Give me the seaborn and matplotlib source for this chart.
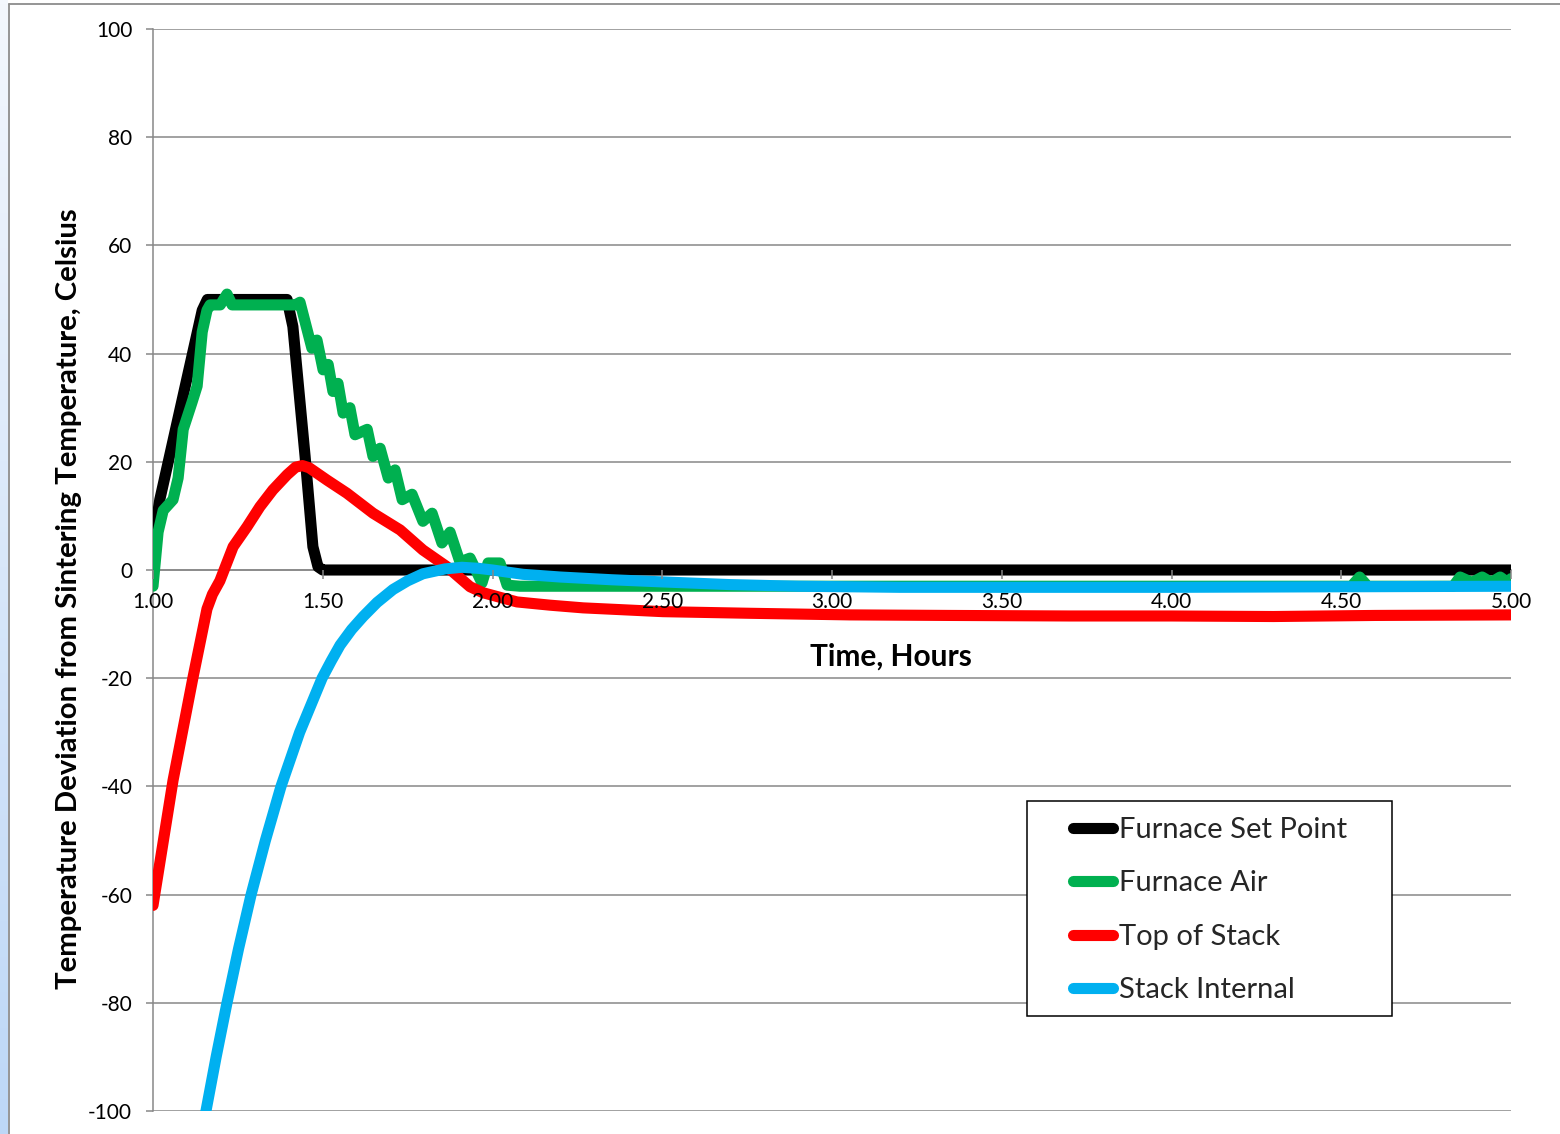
import numpy as np
import pandas as pd
import matplotlib
matplotlib.use("Agg")
import matplotlib.pyplot as plt
from matplotlib.patches import Rectangle
from matplotlib.lines import Line2D
from matplotlib.colors import LinearSegmentedColormap
import seaborn as sns

# ---- measured temperature deviations (hours, degrees Celsius) ----
hours_setpoint = [1.000, 1.020, 1.145, 1.160, 1.395, 1.412, 1.448, 1.471, 1.486, 1.500, 5.000]
setpoint = [5.0, 13.0, 48.0, 50.0, 50.0, 45.0, 21.0, 4.3, 0.6, 0.0, 0.0]

hours_air = [1.000, 1.015, 1.030, 1.059, 1.074, 1.089, 1.115, 1.130, 1.145, 1.159,
             1.168, 1.198, 1.218, 1.233, 1.419, 1.433, 1.468, 1.483, 1.501, 1.516,
             1.530, 1.545, 1.560, 1.580, 1.595, 1.631, 1.648, 1.669, 1.693, 1.713,
             1.734, 1.763, 1.795, 1.822, 1.851, 1.875, 1.904, 1.934, 1.969, 1.987,
             2.022, 2.043, 2.081, 2.500, 3.000, 3.500, 4.000, 4.530, 4.554, 4.578,
             4.830, 4.850, 4.885, 4.915, 4.942, 4.968, 4.990, 5.000]
furnace_air = [-3.0, 7.0, 11.0, 13.0, 17.0, 26.0, 31.0, 34.0, 44.0, 48.0,
               49.0, 49.0, 51.0, 49.0, 49.0, 49.5, 41.0, 42.5, 37.0, 38.0,
               33.0, 34.5, 29.0, 30.0, 25.0, 26.0, 21.0, 22.5, 17.0, 18.5,
               13.0, 14.0, 9.0, 10.5, 5.0, 7.0, 1.5, 2.2, -2.4, 1.3,
               1.3, -2.8, -3.0, -3.0, -3.0, -3.0, -3.0, -3.0, -1.3, -3.0,
               -3.0, -1.3, -2.3, -1.3, -2.3, -1.3, -2.3, -1.6]

hours_top = [1.000, 1.059, 1.118, 1.159, 1.175, 1.197, 1.236, 1.277, 1.315, 1.353,
             1.395, 1.420, 1.440, 1.460, 1.513, 1.571, 1.648, 1.728, 1.795, 1.866,
             1.934, 1.972, 2.072, 2.169, 2.267, 2.502, 2.758, 3.053, 3.348, 3.700,
             4.000, 4.300, 4.600, 5.000]
top_of_stack = [-62.0, -38.9, -19.8, -7.2, -4.5, -2.0, 4.3, 8.0, 11.7, 14.8,
                17.6, 19.0, 19.3, 18.9, 16.6, 14.2, 10.5, 7.4, 3.7, 0.6,
                -3.1, -4.2, -5.9, -6.5, -7.0, -7.7, -8.0, -8.3, -8.4, -8.5,
                -8.5, -8.6, -8.4, -8.3]

hours_internal = [1.140, 1.156, 1.186, 1.218, 1.252, 1.289, 1.331, 1.377, 1.432, 1.498,
                  1.525, 1.551, 1.585, 1.619, 1.660, 1.707, 1.750, 1.795, 1.860, 1.910,
                  1.960, 2.000, 2.090, 2.200, 2.350, 2.500, 2.700, 2.900, 3.200, 3.600,
                  4.000, 4.500, 5.000]
stack_internal = [-106.0, -100.0, -90.0, -80.0, -70.0, -60.0, -50.0, -40.0, -30.0, -20.0,
                  -16.8, -13.9, -11.0, -8.6, -6.0, -3.6, -2.0, -0.7, 0.2, 0.5,
                  0.3, 0.0, -0.8, -1.3, -1.8, -2.2, -2.7, -3.0, -3.2, -3.2,
                  -3.2, -3.1, -3.0]

series_names = ["Furnace Set Point", "Furnace Air", "Top of Stack", "Stack Internal"]
series_colors = ["#000000", "#00b050", "#ff0000", "#00b0f0"]

x_ticks = [1.0, 1.5, 2.0, 2.5, 3.0, 3.5, 4.0, 4.5, 5.0]
x_tick_labels = ["1.00", "1.50", "2.00", "2.50", "3.00", "3.50", "4.00", "4.50", "5.00"]
y_ticks = [-100, -80, -60, -40, -20, 0, 20, 40, 60, 80, 100]
y_tick_labels = ["-100", "-80", "-60", "-40", "-20", "0", "20", "40", "60", "80", "100"]

# ---- long-form table for seaborn ----
frames = []
for name, hrs, vals in zip(series_names,
                           [hours_setpoint, hours_air, hours_top, hours_internal],
                           [setpoint, furnace_air, top_of_stack, stack_internal]):
    frames.append(pd.DataFrame({"Time": hrs, "Deviation": vals, "Series": name}))
df = pd.concat(frames, ignore_index=True)

sns.set_theme(style="white")
plt.rcParams["font.family"] = ["Lato", "DejaVu Sans"]
plt.rcParams["axes.unicode_minus"] = False

W, H = 1560, 1134
fig = plt.figure(figsize=(W / 100, H / 100), dpi=100)
fig.patch.set_facecolor("white")

# plot area in pixel terms
left_px, right_px, top_px, bottom_px = 153, 1511, 29, 1111
ax = fig.add_axes([left_px / W, 1 - bottom_px / H,
                   (right_px - left_px) / W, (bottom_px - top_px) / H])
ax.set_facecolor("white")

grid_gray = "#878787"
line_w = 8

# horizontal gridlines kept beneath the curves; tick labels stay on top
for yv in y_ticks:
    ax.axhline(yv, color=grid_gray, linewidth=1.1, zorder=1)

sns.lineplot(data=df, x="Time", y="Deviation", hue="Series",
             hue_order=series_names, palette=dict(zip(series_names, series_colors)),
             estimator=None, sort=False, linewidth=line_w, legend=False, ax=ax,
             solid_capstyle="round", solid_joinstyle="round")

ax.set_xlim(1.0, 5.0)
ax.set_ylim(-100, 100)

ax.set_yticks(y_ticks, labels=y_tick_labels)
ax.set_xticks(x_ticks, labels=x_tick_labels)
ax.grid(False)
ax.set_axisbelow(False)

for side in ["top", "right"]:
    ax.spines[side].set_visible(False)
ax.spines["left"].set_color(grid_gray)
ax.spines["left"].set_linewidth(1.1)
ax.spines["left"].set_zorder(1)
ax.spines["bottom"].set_position(("data", 0))
ax.spines["bottom"].set_color(grid_gray)
ax.spines["bottom"].set_linewidth(1.1)
ax.spines["bottom"].set_zorder(1)

ax.tick_params(axis="y", direction="out", length=5, width=1.1, color=grid_gray,
               pad=10, labelsize=15, labelcolor="black", left=True)
ax.tick_params(axis="x", direction="out", length=6.5, width=1.1, color=grid_gray,
               pad=9, labelsize=15, labelcolor="black", bottom=True)

ax.set_ylabel("Temperature Deviation from Sintering Temperature, Celsius",
              fontsize=21.2, fontweight="bold", color="black", va="center")
ax.yaxis.set_label_coords((69 - left_px) / (right_px - left_px),
                          (bottom_px - 599) / (bottom_px - top_px))
ax.set_xlabel("Time, Hours", fontsize=21.5, fontweight="bold", color="black", va="center")
ax.xaxis.set_label_coords((891 - left_px) / (right_px - left_px),
                          (bottom_px - 657) / (bottom_px - top_px))

# legend box and entries
box = Rectangle((1027 / W, 1 - 1016 / H), (1392 - 1027) / W, (1016 - 801) / H,
                transform=fig.transFigure, facecolor="white", edgecolor="black",
                linewidth=1.1, zorder=4)
fig.add_artist(box)
handles = [Line2D([], [], color=c, linewidth=line_w, solid_capstyle="round")
           for c in series_colors]
leg = fig.legend(handles, series_names, loc="upper left",
                 bbox_to_anchor=(1073 / W, 1 - 817 / H), bbox_transform=fig.transFigure,
                 frameon=False, borderpad=0, borderaxespad=0, fontsize=21,
                 handlelength=1.37, handletextpad=0.2, labelspacing=0.94)
leg.set_zorder(6)

# chart-area border and window edge
strip = fig.add_axes([0, 0, 8 / W, 1])
strip.imshow(np.linspace(0, 1, 256).reshape(-1, 1), aspect="auto",
             cmap=LinearSegmentedColormap.from_list("edge", ["#f3f7fd", "#bdd7f6"]))
strip.set_axis_off()
fig.add_artist(Line2D([8.5 / W, 8.5 / W], [0, 1 - 3.5 / H], transform=fig.transFigure,
                      color="#8c8c8c", linewidth=1.3))
fig.add_artist(Line2D([8.5 / W, 1], [1 - 3.5 / H, 1 - 3.5 / H], transform=fig.transFigure,
                      color="#8c8c8c", linewidth=1.3))

fig.savefig("out.png", dpi=100, facecolor="white")
